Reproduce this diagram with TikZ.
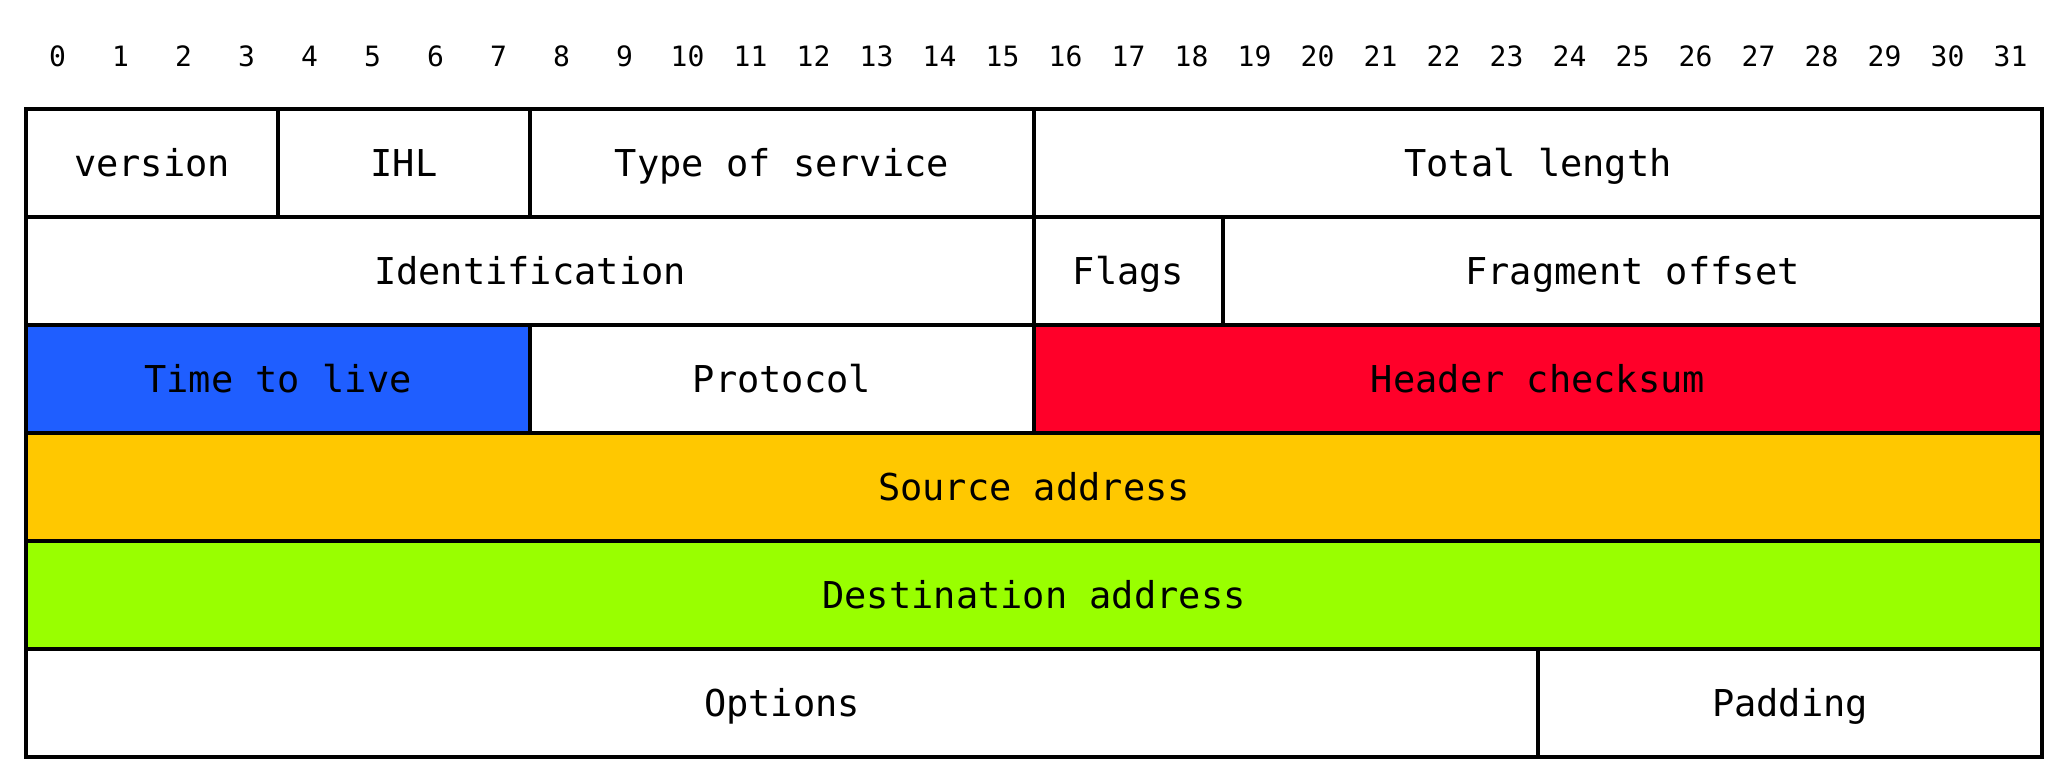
\documentclass[tikz,border=0pt]{standalone}
\usepackage{fontspec}
\setmonofont{DejaVu Sans Mono}

\definecolor{ttlblue}{RGB}{31,94,255}
\definecolor{checkred}{RGB}{255,0,41}
\definecolor{srcamber}{RGB}{255,200,0}
\definecolor{dstgreen}{RGB}{153,255,0}

% one header field: name, row, first bit, end bit, fill, label
\newcommand\ipfield[6]{%
  \node[field, fill=#5, minimum width={(#4-#3)*31.5}, minimum height=54pt]
    (#1) at ({26+(#3+#4)/2*63}, {109+(#2+0.5)*108}) {#6};}

\begin{document}
\begin{tikzpicture}[x=0.5pt, y=-0.5pt,
  field/.style={draw=black, line width=1.7pt, rectangle, inner sep=0pt, outer sep=0pt,
    font=\ttfamily\fontsize{18.5}{22}\selectfont, text height=13.5pt, text depth=0pt},
  bitnum/.style={inner sep=0pt, anchor=base, font=\ttfamily\fontsize{14}{16}\selectfont}]
\useasboundingbox (0,0) rectangle (2067,783);

% bit numbers above the header
\foreach \i in {0,...,31}
  \node[bitnum] (b\i) at ({26+(\i+0.5)*63}, 66) {\i};

% row 0
\ipfield{version}{0}{0}{4}{white}{version}
\ipfield{ihl}{0}{4}{8}{white}{IHL}
\ipfield{tos}{0}{8}{16}{white}{Type of service}
\ipfield{totlen}{0}{16}{32}{white}{Total length}
% row 1
\ipfield{ident}{1}{0}{16}{white}{Identification}
\ipfield{flags}{1}{16}{19}{white}{Flags}
\ipfield{fragoff}{1}{19}{32}{white}{Fragment offset}
% row 2
\ipfield{ttl}{2}{0}{8}{ttlblue}{Time to live}
\ipfield{proto}{2}{8}{16}{white}{Protocol}
\ipfield{cksum}{2}{16}{32}{checkred}{Header checksum}
% rows 3 and 4
\ipfield{src}{3}{0}{32}{srcamber}{Source address}
\ipfield{dst}{4}{0}{32}{dstgreen}{Destination address}
% row 5
\ipfield{opts}{5}{0}{24}{white}{Options}
\ipfield{pad}{5}{24}{32}{white}{Padding}
\end{tikzpicture}
\end{document}
